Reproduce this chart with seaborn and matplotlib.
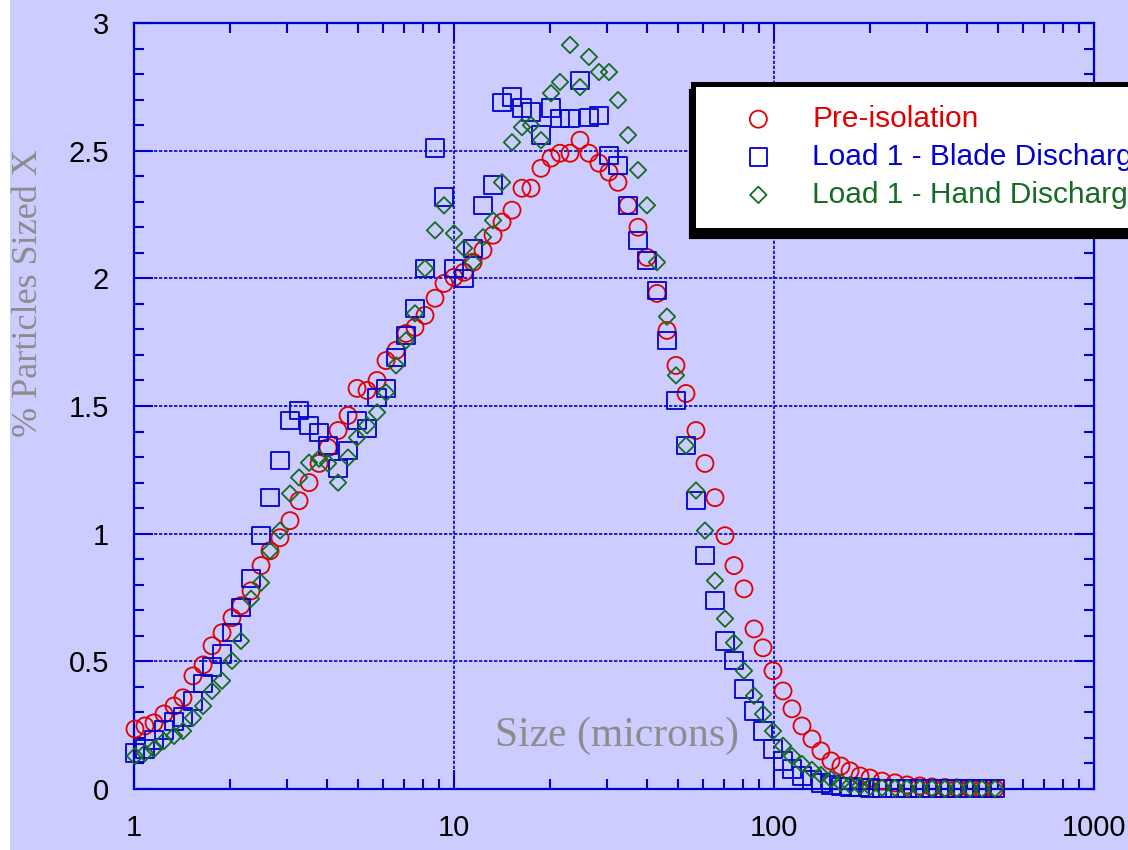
import matplotlib
matplotlib.use("Agg")
import matplotlib.pyplot as plt
import seaborn as sns
import pandas as pd
from matplotlib.patches import Rectangle
from matplotlib.transforms import IdentityTransform
from matplotlib.ticker import FixedLocator, FixedFormatter, LogLocator, NullFormatter, MultipleLocator

# ---------------- data ----------------
size_um = [
    1.007, 1.082, 1.155, 1.241, 1.334, 1.423, 1.528, 1.644, 1.753, 1.884,
    2.024, 2.159, 2.321, 2.494, 2.661, 2.859, 3.073, 3.280, 3.524, 3.787,
    4.040, 4.341, 4.665, 4.977, 5.349, 5.748, 6.132, 6.590, 7.080, 7.553,
    8.117, 8.723, 9.306, 10.0, 10.75, 11.47, 12.32, 13.24, 14.13, 15.18,
    16.31, 17.40, 18.70, 20.10, 21.44, 23.04, 24.76, 26.41, 28.38, 30.50,
    32.54, 34.97, 37.58, 40.09, 43.08, 46.30, 49.39, 53.08, 57.04, 60.85,
    65.40, 70.28, 74.97, 80.57, 86.60, 92.39, 99.28, 106.7, 113.8, 122.3,
    131.4, 140.2, 150.7, 161.9, 172.8, 185.7, 199.5, 217.6, 238.8, 260.4,
    285.8, 311.7, 342.1, 373.1, 409.9, 446.7, 490.6,
]

pre_isolation = [
    0.235, 0.247, 0.259, 0.294, 0.325, 0.357, 0.443, 0.486, 0.561, 0.612,
    0.671, 0.718, 0.776, 0.875, 0.933, 0.984, 1.051, 1.129, 1.200, 1.275,
    1.337, 1.404, 1.463, 1.569, 1.561, 1.600, 1.678, 1.718, 1.784, 1.808,
    1.855, 1.922, 1.980, 2.004, 2.024, 2.063, 2.110, 2.169, 2.220, 2.267,
    2.353, 2.353, 2.431, 2.471, 2.490, 2.490, 2.541, 2.490, 2.451, 2.416,
    2.376, 2.286, 2.200, 2.082, 1.941, 1.796, 1.659, 1.549, 1.404, 1.275,
    1.141, 0.992, 0.875, 0.784, 0.627, 0.553, 0.463, 0.384, 0.314, 0.247,
    0.196, 0.149, 0.110, 0.090, 0.071, 0.051, 0.043, 0.031, 0.024, 0.016,
    0.012, 0.008, 0.006, 0.004, 0.003, 0.002, 0.001,
]

blade_discharge = [
    0.141, 0.157, 0.192, 0.231, 0.263, 0.282, 0.345, 0.412, 0.478, 0.529,
    0.612, 0.710, 0.824, 0.992, 1.141, 1.286, 1.443, 1.482, 1.424, 1.396,
    1.345, 1.255, 1.325, 1.443, 1.412, 1.533, 1.569, 1.690, 1.776, 1.882,
    2.039, 2.510, 2.318, 2.039, 2.000, 2.118, 2.286, 2.365, 2.690, 2.710,
    2.667, 2.651, 2.561, 2.667, 2.627, 2.627, 2.776, 2.631, 2.639, 2.482,
    2.443, 2.286, 2.149, 2.071, 1.953, 1.757, 1.522, 1.345, 1.129, 0.914,
    0.737, 0.580, 0.502, 0.392, 0.306, 0.227, 0.157, 0.110, 0.078, 0.051,
    0.035, 0.024, 0.016, 0.010, 0.008, 0.005, 0.004, 0.003, 0.002, 0.002,
    0.001, 0.001, 0.001, 0.001, 0.001, 0.001, 0.001,
]

hand_discharge = [
    0.129, 0.141, 0.157, 0.188, 0.208, 0.227, 0.278, 0.325, 0.384, 0.424,
    0.502, 0.580, 0.745, 0.808, 0.933, 1.012, 1.157, 1.220, 1.278, 1.294,
    1.275, 1.200, 1.298, 1.376, 1.424, 1.475, 1.553, 1.659, 1.757, 1.863,
    2.039, 2.188, 2.286, 2.176, 2.118, 2.063, 2.161, 2.227, 2.376, 2.533,
    2.592, 2.600, 2.541, 2.725, 2.769, 2.914, 2.749, 2.867, 2.808, 2.808,
    2.698, 2.561, 2.424, 2.286, 2.063, 1.850, 1.620, 1.345, 1.169, 1.012,
    0.816, 0.667, 0.573, 0.463, 0.365, 0.294, 0.227, 0.169, 0.129, 0.098,
    0.075, 0.055, 0.039, 0.024, 0.016, 0.012, 0.008, 0.005, 0.004, 0.003,
    0.002, 0.002, 0.001, 0.001, 0.001, 0.001, 0.001,
]

series_labels = ["Pre-isolation", "Load 1 - Blade Discharge", "Load 1 - Hand Discharge"]
x_ticks = [1, 10, 100, 1000]
x_tick_labels = ["1", "10", "100", "1000"]
y_ticks = [0, 0.5, 1, 1.5, 2, 2.5, 3]
y_tick_labels = ["0", "0.5", "1", "1.5", "2", "2.5", "3"]
x_label = "Size (microns)"
y_label = "% Particles Sized X"

# ---------------- style ----------------
BG = "#ccccff"
AX_BLUE = "#0000cc"
RED = "#e00000"
BLUE = "#0000d0"
GREEN = "#146c22"
GRAY = "#8c8c8c"

sns.set_style("ticks")
plt.rcParams["font.family"] = ["Liberation Sans", "DejaVu Sans"]

W, H = 1128, 850
fig = plt.figure(figsize=(W / 100, H / 100), dpi=100, facecolor=BG)
fig.add_artist(Rectangle((0, 0), 10 / W, 1, transform=fig.transFigure,
                         facecolor="white", edgecolor="none", zorder=0))

ax = fig.add_axes([134 / W, 61 / H, 960 / W, 766 / H])
ax.set_facecolor(BG)

df = pd.DataFrame({
    "size": size_um,
    "pre": pre_isolation,
    "blade": blade_discharge,
    "hand": hand_discharge,
})

specs = [
    ("pre", series_labels[0], "o", RED, 150),
    ("blade", series_labels[1], "s", BLUE, 155),
    ("hand", series_labels[2], "D", GREEN, 70),
]
handles = []
for col, lab, mk, colr, s in specs:
    sns.scatterplot(data=df, x="size", y=col, marker=mk, s=s, color=colr,
                    edgecolor=colr, linewidth=1.3, legend=False, ax=ax,
                    zorder=4, clip_on=False, label=lab)
    coll = ax.collections[-1]
    coll.set_facecolor("none")
    coll.set_edgecolor(colr)
    handles.append(coll)

ax.set_xscale("log")
ax.set_xlim(1, 1000)
ax.set_ylim(0, 3)

ax.xaxis.set_major_locator(FixedLocator(x_ticks))
ax.xaxis.set_major_formatter(FixedFormatter(x_tick_labels))
ax.xaxis.set_minor_locator(LogLocator(base=10, subs=(2, 3, 4, 5, 6, 7, 8, 9)))
ax.xaxis.set_minor_formatter(NullFormatter())
ax.yaxis.set_major_locator(FixedLocator(y_ticks))
ax.yaxis.set_major_formatter(FixedFormatter(y_tick_labels))
ax.yaxis.set_minor_locator(MultipleLocator(0.1))

ax.tick_params(which="both", direction="in", top=True, right=True,
               color=AX_BLUE, width=1.5, labelcolor="black")
ax.tick_params(which="major", length=14, pad=18, labelsize=21)
ax.tick_params(which="minor", length=7.5)

for sp in ax.spines.values():
    sp.set_color(AX_BLUE)
    sp.set_linewidth(1.6)
    sp.set_visible(True)

ax.grid(which="major", color=AX_BLUE, linestyle=(0, (2, 1)), linewidth=1.2)
ax.grid(which="minor", visible=False)

ax.set_xlabel(x_label, family="Liberation Serif", size=30, color=GRAY, va="center")
ax.xaxis.set_label_coords(0.503, 0.07)
ax.set_ylabel(y_label, family="Liberation Serif", size=26, color=GRAY, va="center")
ax.yaxis.set_label_coords(-0.110, 0.647)

leg = fig.legend(handles, series_labels, loc="upper left",
                 bbox_to_anchor=(692.5 / W, 1 - 83.5 / H), bbox_transform=fig.transFigure,
                 borderaxespad=0, frameon=True, fancybox=False, shadow=False,
                 edgecolor="black", facecolor="white", framealpha=1,
                 prop={"family": "Liberation Sans", "size": 21.5},
                 borderpad=0.72, handlelength=2.97, handletextpad=0.32,
                 labelspacing=0.33, scatterpoints=1, markerscale=1.0)
leg.set_zorder(10)
leg.get_frame().set_linewidth(3.6)
for t, c in zip(leg.get_texts(), [RED, BLUE, GREEN]):
    t.set_color(c)

fig.canvas.draw()
bb = leg.get_frame().get_window_extent()
fig.add_artist(Rectangle((bb.x0 - 2, bb.y0 - 7), bb.width, bb.height,
                         transform=IdentityTransform(), facecolor="black",
                         edgecolor="black", linewidth=3, zorder=9))

fig.savefig("out.png", dpi=100, facecolor=BG)
